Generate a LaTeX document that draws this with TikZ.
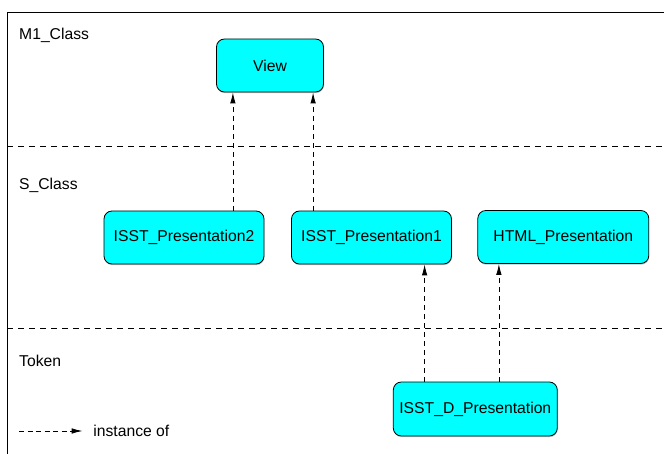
\documentclass[tikz,border=0pt]{standalone}
\usepackage{fontspec}
\setmainfont{Liberation Sans}
\usetikzlibrary{arrows.meta, shadows}
\definecolor{elemfill}{RGB}{0,255,255}
\tikzset{
 elem/.style={draw, rounded corners=8pt, fill=elemfill, line width=0.8pt, align=center,
  font=\fontsize{15.7}{18}\selectfont,
  drop shadow={shadow xshift=0.4pt, shadow yshift=-1.2pt, fill=black!45}},
 instance/.style={dash pattern=on 5pt off 4pt, line width=0.8pt, -{Latex[length=11pt,width=5.5pt]}},
 layer/.style={dash pattern=on 6pt off 5pt, line width=0.8pt},
 lbl/.style={anchor=base west, inner sep=0pt, font=\fontsize{15.7}{18}\selectfont}
}

\begin{document}
\begin{tikzpicture}[x=1pt, y=-1pt]
 \useasboundingbox (0,0) rectangle (664,454);
 \draw[line width=0.8pt] (664,12) -- (7,12) -- (7,454);
 \draw[layer] (7,146) -- (664,146);
 \draw[layer] (7,328) -- (664,328);
 \node[lbl] (m1) at (19,39.5) {M1\_Class};
 \node[lbl] (scl) at (19,189.3) {S\_Class};
 \node[lbl] (tok) at (19,366.7) {Token};
 \node[elem, minimum width=107pt, minimum height=53pt] (view) at (270,65.5) {View};
 \node[elem, minimum width=160pt, minimum height=53pt] (pres2) at (184,237.5) {ISST\_Presentation2};
 \node[elem, minimum width=160pt, minimum height=53pt] (pres1) at (371.5,237.5) {ISST\_Presentation1};
 \node[elem, minimum width=171pt, minimum height=53pt] (html) at (563.3,237) {HTML\_Presentation};
 \node[elem, minimum width=164pt, minimum height=54pt] (isstd) at (475.3,409) {ISST\_D\_Presentation};
 \draw[instance] ([xshift=-31.5pt]pres2.north east) -- ([xshift=-31.5pt]pres2.north east |- view.south);
 \draw[instance] ([xshift=22pt]pres1.north west) -- ([xshift=22pt]pres1.north west |- view.south);
 \draw[instance] ([xshift=31.7pt]isstd.north west) -- ([xshift=31.7pt]isstd.north west |- pres1.south);
 \draw[instance] ([xshift=106pt]isstd.north west) -- ([xshift=106pt]isstd.north west |- html.south);
 \coordinate (legstart) at (19,431);
 \node[lbl] (inst) at (93.2,436.7) {instance of};
 \draw[instance, dash pattern=on 5pt off 3.5pt] (legstart) -- ([xshift=-10.6pt]inst.west |- legstart);
\end{tikzpicture}
\end{document}
